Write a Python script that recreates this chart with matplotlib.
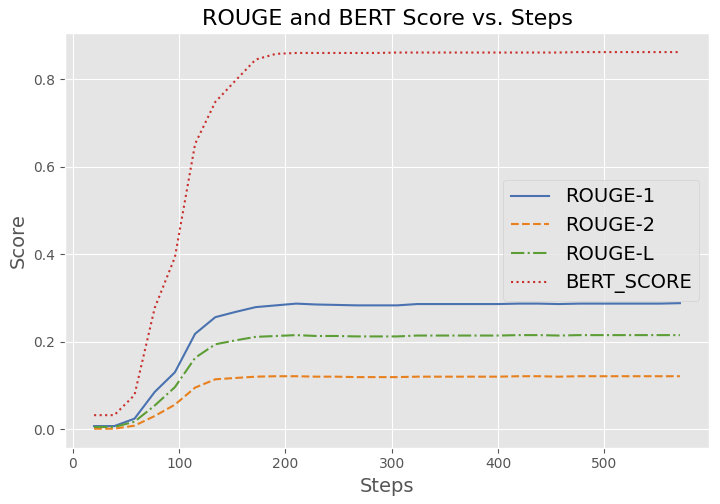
import matplotlib
matplotlib.use("Agg")
import matplotlib.pyplot as plt

plt.style.use('ggplot')

# evaluation checkpoints
steps = [20 + 19 * k for k in range(30)]

rouge_1 = [0.007, 0.007, 0.024, 0.085, 0.130, 0.218, 0.256, 0.268, 0.279, 0.283,
           0.287, 0.285, 0.284, 0.283, 0.283, 0.283, 0.286, 0.286, 0.286, 0.286,
           0.286, 0.287, 0.287, 0.286, 0.287, 0.287, 0.287, 0.287, 0.287, 0.288]
rouge_2 = [0.001, 0.001, 0.008, 0.030, 0.056, 0.095, 0.114, 0.117, 0.120, 0.121,
           0.121, 0.120, 0.120, 0.119, 0.119, 0.119, 0.120, 0.120, 0.120, 0.120,
           0.120, 0.121, 0.121, 0.120, 0.121, 0.121, 0.121, 0.121, 0.121, 0.121]
rouge_l = [0.005, 0.005, 0.017, 0.054, 0.096, 0.163, 0.194, 0.203, 0.211, 0.213,
           0.215, 0.213, 0.213, 0.212, 0.212, 0.212, 0.214, 0.214, 0.214, 0.214,
           0.214, 0.215, 0.215, 0.214, 0.215, 0.215, 0.215, 0.215, 0.215, 0.215]
bert_score = [0.032, 0.032, 0.078, 0.277, 0.393, 0.652, 0.748, 0.797, 0.845, 0.858,
              0.860, 0.860, 0.860, 0.860, 0.860, 0.861, 0.861, 0.861, 0.861, 0.861,
              0.861, 0.861, 0.861, 0.861, 0.862, 0.862, 0.862, 0.862, 0.862, 0.862]

plt.figure(figsize=(7.2, 5.04), dpi=100)
plt.plot(steps, rouge_1, label='ROUGE-1', color='#4a72b0', linestyle='-')
plt.plot(steps, rouge_2, label='ROUGE-2', color='#e8801e', linestyle='--')
plt.plot(steps, rouge_l, label='ROUGE-L', color='#5c9e35', linestyle='-.')
plt.plot(steps, bert_score, label='BERT_SCORE', color='#c8302c', linestyle=':')

plt.title('ROUGE and BERT Score vs. Steps', fontsize=16)
plt.xlabel('Steps', fontsize=14)
plt.ylabel('Score', fontsize=14)
plt.legend(fontsize=14, loc='center right')
plt.subplots_adjust(left=0.090, right=0.985, top=0.934, bottom=0.112)
plt.savefig('out.png', dpi=100)
